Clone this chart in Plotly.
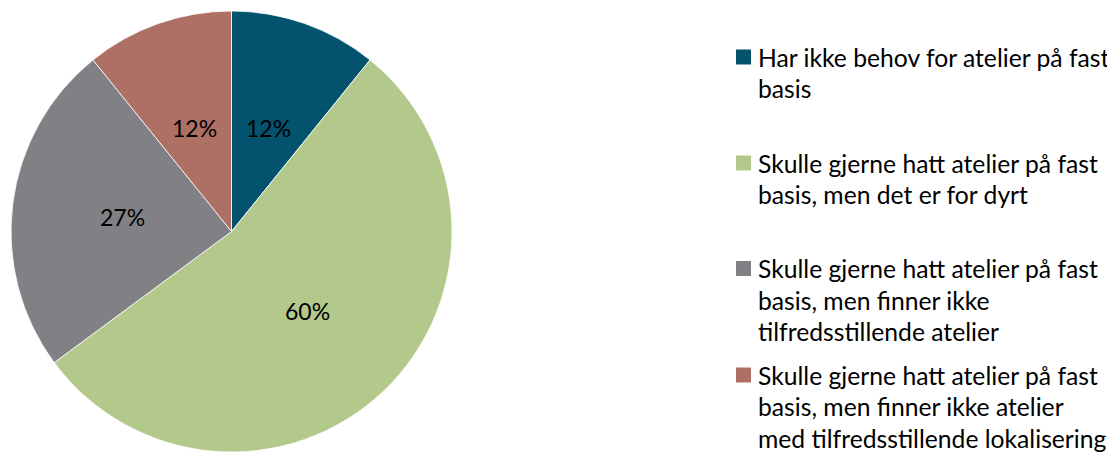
import math
import plotly.graph_objects as go

legend_lines = [
    ["Har ikke behov for atelier på fast", "basis"],
    ["Skulle gjerne hatt atelier på fast", "basis, men det er for dyrt"],
    ["Skulle gjerne hatt atelier på fast", "basis, men finner ikke", "tilfredsstillende atelier"],
    ["Skulle gjerne hatt atelier på fast", "basis, men finner ikke atelier", "med tilfredsstillende lokalisering"],
]
labels = [" ".join(l) for l in legend_lines]
values = [12, 60, 27, 12]
value_text = ["12%", "60%", "27%", "12%"]
colors = ["#03536E", "#B3C98B", "#808085", "#AE7065"]

FONT = "Lato"
W, H = 1107, 444
ML, MT = 3, 3
PW, PH = W - ML, H - MT  # plot area size in px
R = PH / 2


def px_to_paper(X, Y):
    """page pixel (with 8px body offset) -> paper coords"""
    return (X - 8 - ML) / PW, 1 - (Y - 8 - MT) / PH


fig = go.Figure(
    go.Pie(
        labels=labels,
        values=values,
        textinfo="none",
        marker=dict(colors=colors, line=dict(color="white", width=0.8)),
        sort=False,
        direction="clockwise",
        rotation=0,
        showlegend=False,
        hoverinfo="label+text",
        text=value_text,
        domain=dict(x=[0, PH / PW], y=[0, 1]),
    )
)

annotations = []
shapes = []

# value labels placed at half radius along each slice bisector
total = sum(values)
cum = 0
for v, t in zip(values, value_text):
    mid = (cum + v / 2) / total * 2 * math.pi
    cum += v
    xp = R + 0.5 * R * math.sin(mid)
    yp = R - 0.5 * R * math.cos(mid)
    annotations.append(dict(xref="paper", yref="paper", x=xp / PW, y=1 - yp / PH,
                            xanchor="center", yanchor="middle", text=t, showarrow=False,
                            font=dict(family=FONT, size=23, color="#000000")))

# legend drawn manually
first_line_y = [57, 163, 268.5, 375]
line_gap = 31.5
for i, (lines, col) in enumerate(zip(legend_lines, colors)):
    yc = first_line_y[i]
    x0, y0 = px_to_paper(736, yc - 7.5)
    x1, y1 = px_to_paper(751, yc + 7.5)
    shapes.append(dict(type="rect", xref="paper", yref="paper",
                       x0=x0, x1=x1, y0=y1, y1=y0,
                       fillcolor=col, line=dict(width=0)))
    for j, line in enumerate(lines):
        xa, ya = px_to_paper(756, yc + j * line_gap)
        annotations.append(dict(xref="paper", yref="paper", x=xa, y=ya,
                                xanchor="left", yanchor="middle", align="left",
                                text=line, showarrow=False,
                                font=dict(family=FONT, size=24.7, color="#000000")))

fig.update_layout(
    width=W, height=H,
    margin=dict(l=ML, r=0, t=MT, b=0),
    paper_bgcolor="white", plot_bgcolor="white",
    shapes=shapes, annotations=annotations,
)

fig.write_html("out.html")
